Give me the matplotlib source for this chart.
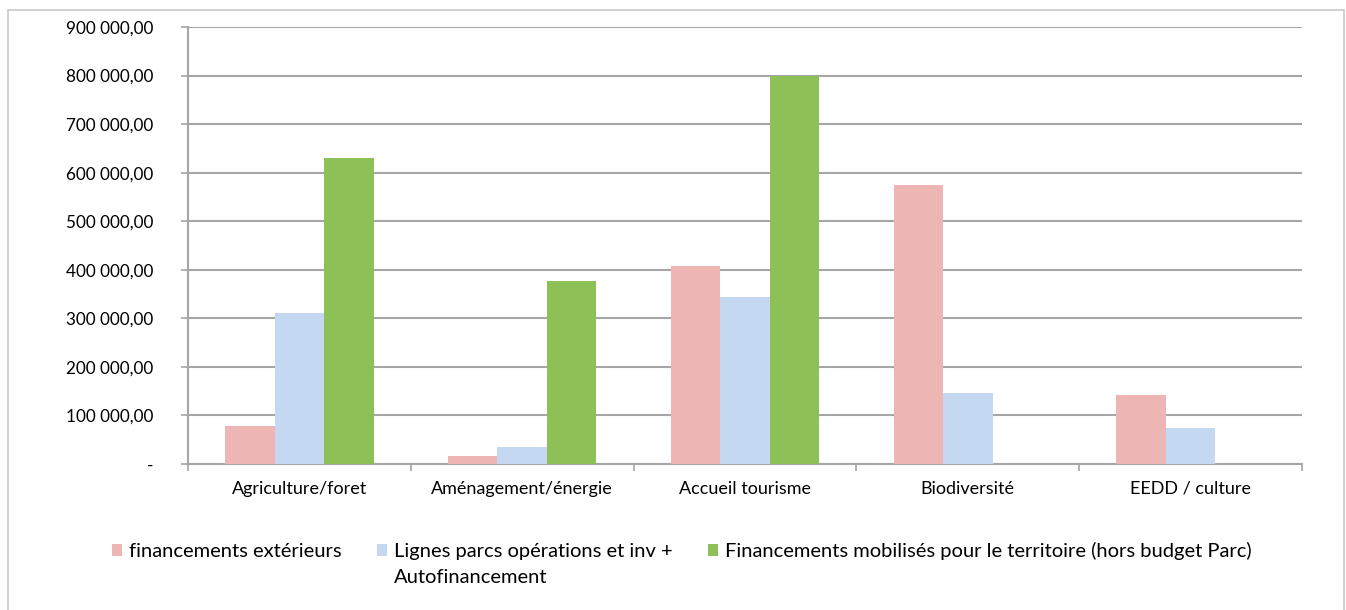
import numpy as np
import matplotlib
matplotlib.use('Agg')
import matplotlib.pyplot as plt
from matplotlib.patches import Rectangle
from matplotlib.ticker import FuncFormatter, FixedLocator

plt.rcParams['font.family'] = ['Lato', 'DejaVu Sans']

# data
categories = ['Agriculture/foret', 'Aménagement/énergie', 'Accueil tourisme', 'Biodiversité', 'EEDD / culture']
series_names = ['financements extérieurs',
                'Lignes parcs opérations et inv +',
                'Financements mobilisés pour le territoire (hors budget Parc)']
series_name2_line2 = 'Autofinancement'
exterieurs = [78000, 16500, 408000, 574500, 141500]
lignes_parcs = [312000, 34000, 344500, 145500, 74000]
mobilises = [631000, 377500, 799000, 0, 0]
colors = ['#EDB5B4', '#C4D8F1', '#8DC158']

W, H = 1346, 610
fig = plt.figure(figsize=(W/100, H/100), dpi=100)
ax = fig.add_axes([188/W, 1-464/H, (1302-188)/W, (464-27)/H])

# outer chart frame
fig.patches.append(Rectangle((8/W, -0.1), 1336/W, 1.1 - 10/H, transform=fig.transFigure,
                             fill=False, edgecolor='#C8C8C8', linewidth=1.2))

x = np.arange(len(categories))
w = 0.222
for i, (vals, name) in enumerate(zip([exterieurs, lignes_parcs, mobilises], series_names)):
    ax.bar(x + (i - 1)*w, vals, w, color=colors[i], label=name, zorder=3)

ax.set_xlim(-0.5, len(categories) - 0.5)
ax.set_ylim(0, 900000)
ax.set_yticks(np.arange(0, 900001, 100000))

def fmt(v, pos):
    if v == 0:
        return '-'
    return '{:,.2f}'.format(v).replace(',', ' ').replace('.', ',')

ax.yaxis.set_major_formatter(FuncFormatter(fmt))
ax.yaxis.grid(True, color='#A6A6A6', linewidth=1.5, zorder=0)
ax.tick_params(axis='y', length=5, width=1.2, color='#A6A6A6', pad=20, labelsize=12.3)

# category ticks at the boundaries, labels at the centres
ax.xaxis.set_major_locator(FixedLocator(np.arange(-0.5, len(categories), 1.0)))
ax.xaxis.set_minor_locator(FixedLocator(x))
ax.xaxis.set_major_formatter(FuncFormatter(lambda v, p: ''))
ax.xaxis.set_minor_formatter(FuncFormatter(lambda v, p: categories[int(round(v))]))
ax.tick_params(axis='x', which='major', length=5, width=1.2, color='#A6A6A6')
ax.tick_params(axis='x', which='minor', length=0, pad=12, labelsize=13)

for s in ['top', 'right']:
    ax.spines[s].set_visible(False)
for s in ['left', 'bottom']:
    ax.spines[s].set_color('#A6A6A6')
    ax.spines[s].set_linewidth(1.5)

leg = fig.legend(loc='center left', bbox_to_anchor=(112/W, 1-551/H), ncol=3, frameon=False,
                 fontsize=14.5, handlelength=0.5, handleheight=0.5, handletextpad=0.35,
                 columnspacing=1.75, borderpad=0, borderaxespad=0)

# second line of the wrapped legend label
fig.canvas.draw()
bb = leg.get_texts()[1].get_window_extent()
fig.text(bb.x0/W, (bb.y0 - 26)/H, series_name2_line2, fontsize=14.5, va='bottom', ha='left')

fig.savefig('out.png', dpi=100)
